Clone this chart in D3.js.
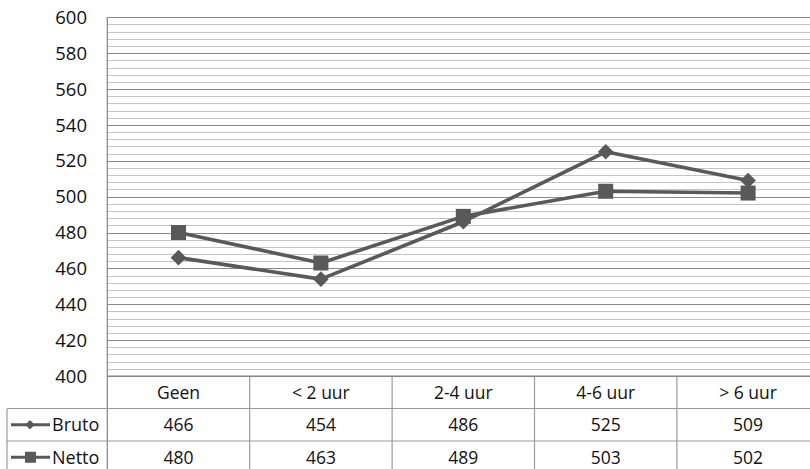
<!DOCTYPE html>
<html><head><meta charset="utf-8">
<script src="https://cdn.jsdelivr.net/npm/d3@7"></script>
<style>html,body{margin:0;padding:0;background:#fff;overflow:hidden}</style>
</head><body>
<svg id="c" width="810" height="469"></svg>
<script>
const categories = ["Geen", "< 2 uur", "2-4 uur", "4-6 uur", "> 6 uur"];
const bruto = [466, 454, 486, 525, 509];
const netto = [480, 463, 489, 503, 502];
const seriesNames = ["Bruto", "Netto"];
const yTicks = [400, 420, 440, 460, 480, 500, 520, 540, 560, 580, 600];

const svg = d3.select("#c");
const font = "'Open Sans', sans-serif";
const lineColor = "#595959";
const plotLeft = 107.3, plotTop = 17.3, plotBottom = 376, plotRight = 819.3;
const y = d3.scaleLinear().domain([400, 600]).range([plotBottom, plotTop]);
const x = d3.scaleBand().domain(categories).range([plotLeft, plotRight]);
const rowH = 32.5;
const rows = [plotBottom, plotBottom + rowH, plotBottom + 2 * rowH, plotBottom + 3 * rowH];

// gridlines
const minor = d3.range(400, 601, 4);
svg.append("g").selectAll("line").data(minor).join("line")
  .attr("x1", plotLeft).attr("x2", 810)
  .attr("y1", d => Math.round(y(d)) + 0.5).attr("y2", d => Math.round(y(d)) + 0.5)
  .attr("stroke", d => d % 20 === 0 ? "#8a8a8a" : "#c4c4c4").attr("stroke-width", 1);

// y labels
svg.append("g").selectAll("text").data(yTicks).join("text")
  .attr("x", 87).attr("y", d => y(d)).attr("dy", "0.36em")
  .attr("text-anchor", "end").attr("font-family", font).attr("font-size", 18.5)
  .attr("fill", "#111").text(d => d);

// table grid
const g = svg.append("g").attr("stroke", "#9a9a9a").attr("stroke-width", 1.2);
g.append("line").attr("x1", plotLeft).attr("x2", plotLeft).attr("y1", plotTop).attr("y2", 469).attr("stroke", "#808080");
g.append("line").attr("x1", 7).attr("x2", 7).attr("y1", rows[1]).attr("y2", 469);
categories.slice(1).forEach(c => {
  g.append("line").attr("x1", x(c)).attr("x2", x(c)).attr("y1", plotBottom).attr("y2", 469);
});
g.append("line").attr("x1", plotLeft).attr("x2", 810).attr("y1", plotBottom).attr("y2", plotBottom).attr("stroke", "#808080");
[rows[1], rows[2]].forEach(r => {
  g.append("line").attr("x1", 7).attr("x2", 810).attr("y1", r).attr("y2", r);
});

// header labels
svg.append("g").selectAll("text").data(categories).join("text")
  .attr("x", d => x(d) + x.bandwidth() / 2).attr("y", (rows[0] + rows[1]) / 2).attr("dy", "0.36em")
  .attr("text-anchor", "middle").attr("font-family", font).attr("font-size", 17.5)
  .attr("fill", "#111").text(d => d);

const series = [bruto, netto];
series.forEach((vals, i) => {
  const cy = (rows[i + 1] + rows[i + 2]) / 2;
  svg.append("g").selectAll("text").data(vals).join("text")
    .attr("x", (d, j) => x(categories[j]) + x.bandwidth() / 2).attr("y", cy).attr("dy", "0.36em")
    .attr("text-anchor", "middle").attr("font-family", font).attr("font-size", 17.5)
    .attr("fill", "#111").text(d => d);
  // legend
  svg.append("line").attr("x1", 11).attr("x2", 50).attr("y1", cy).attr("y2", cy)
    .attr("stroke", lineColor).attr("stroke-width", 3);
  if (i === 0) {
    svg.append("path").attr("d", d3.symbol(d3.symbolDiamond2, 55)())
      .attr("transform", `translate(30,${cy})`).attr("fill", lineColor);
  } else {
    svg.append("rect").attr("x", 25).attr("y", cy - 5.5).attr("width", 11).attr("height", 11).attr("fill", lineColor);
  }
  svg.append("text").attr("x", 52).attr("y", cy).attr("dy", "0.36em")
    .attr("font-family", font).attr("font-size", 18).attr("fill", "#111").text(seriesNames[i]);
});

// lines
const line = d3.line().x((d, j) => x(categories[j]) + x.bandwidth() / 2).y(d => y(d));
series.forEach(vals => {
  svg.append("path").attr("d", line(vals)).attr("fill", "none")
    .attr("stroke", lineColor).attr("stroke-width", 3.6).attr("stroke-linejoin", "round");
});
// markers
svg.append("g").selectAll("path").data(bruto).join("path")
  .attr("d", d3.symbol(d3.symbolDiamond2, 155)())
  .attr("transform", (d, j) => `translate(${x(categories[j]) + x.bandwidth() / 2},${y(d)})`)
  .attr("fill", lineColor);
svg.append("g").selectAll("rect").data(netto).join("rect")
  .attr("x", (d, j) => x(categories[j]) + x.bandwidth() / 2 - 7.5)
  .attr("y", d => y(d) - 7.5).attr("width", 15).attr("height", 15)
  .attr("fill", lineColor);
</script>
</body></html>
